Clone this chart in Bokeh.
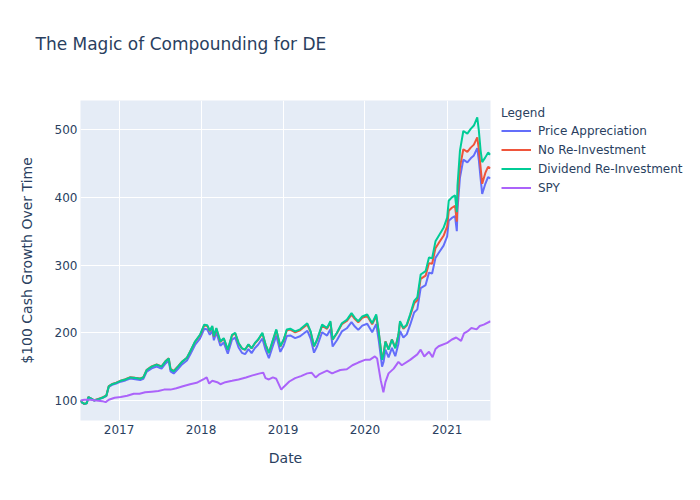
import pandas as pd
from bokeh.plotting import figure
from bokeh.models import (Range1d, Legend, LegendItem, FixedTicker,
                          DatetimeTickFormatter, Title, ColumnDataSource)
from bokeh.embed import file_html
from bokeh.resources import INLINE

# ---------------- data ----------------
de_dates = [
    "2016-07-13", "2016-07-19", "2016-07-30", "2016-08-10", "2016-08-17", "2016-08-28",
    "2016-09-12", "2016-09-30", "2016-10-18", "2016-11-05", "2016-11-16", "2016-12-01",
    "2016-12-19", "2017-01-08", "2017-01-29", "2017-02-20", "2017-03-14", "2017-04-05",
    "2017-04-19", "2017-05-04", "2017-05-26", "2017-06-17", "2017-07-09", "2017-07-27",
    "2017-08-10", "2017-08-18", "2017-09-01", "2017-09-20", "2017-10-08", "2017-10-30",
    "2017-11-13", "2017-12-05", "2017-12-27", "2018-01-15", "2018-01-29", "2018-02-09",
    "2018-02-20", "2018-02-27", "2018-03-10", "2018-03-28", "2018-04-12", "2018-04-30",
    "2018-05-19", "2018-06-02", "2018-06-17", "2018-07-02", "2018-07-16", "2018-07-31",
    "2018-08-14", "2018-08-29", "2018-09-12", "2018-10-01", "2018-10-15", "2018-10-30",
    "2018-11-13", "2018-12-02", "2018-12-20", "2019-01-04", "2019-01-18", "2019-02-02",
    "2019-02-24", "2019-03-18", "2019-04-19", "2019-05-04", "2019-05-19", "2019-06-02",
    "2019-06-24", "2019-07-16", "2019-07-31", "2019-08-10", "2019-08-29", "2019-09-20",
    "2019-10-12", "2019-11-02", "2019-11-17", "2019-12-02", "2019-12-20", "2020-01-11",
    "2020-02-02", "2020-02-20", "2020-03-02", "2020-03-17", "2020-03-24", "2020-04-01",
    "2020-04-15", "2020-04-30", "2020-05-15", "2020-05-29", "2020-06-05", "2020-06-20",
    "2020-07-05", "2020-07-20", "2020-08-07", "2020-08-21", "2020-09-05", "2020-09-27",
    "2020-10-12", "2020-10-26", "2020-11-10", "2020-11-24", "2020-12-16", "2021-01-01",
    "2021-01-08", "2021-01-22", "2021-02-05", "2021-02-13", "2021-02-16", "2021-02-27",
    "2021-03-14", "2021-04-01", "2021-04-16", "2021-04-30", "2021-05-15", "2021-05-22",
    "2021-05-30", "2021-06-06", "2021-06-20", "2021-07-02", "2021-07-13",
]

price_appreciation = [
    100.0, 97.0, 94.9, 95.8, 104.8, 102.7, 99.7, 101.6, 103.4, 106.3, 120.2, 123.0,
    124.9, 127.7, 129.6, 132.4, 131.2, 130.1, 131.9, 142.7, 147.4, 150.2, 147.1, 154.8,
    158.6, 142.9, 139.9, 146.5, 153.2, 158.9, 167.5, 182.0, 191.4, 205.8, 204.7, 196.9,
    203.5, 188.9, 200.4, 180.8, 185.5, 169.0, 190.0, 192.7, 178.2, 170.4, 168.3, 175.8,
    169.9, 177.5, 182.2, 191.5, 175.1, 162.6, 176.8, 195.8, 171.7, 181.2, 195.3, 196.1,
    192.1, 194.8, 203.0, 191.5, 170.6, 180.0, 200.7, 195.8, 205.1, 179.6, 188.9, 202.0,
    206.6, 215.8, 209.1, 204.2, 210.6, 213.2, 200.8, 212.8, 189.3, 149.8, 157.2, 175.0,
    163.6, 177.6, 165.3, 183.9, 202.5, 193.1, 197.6, 211.5, 230.0, 234.5, 265.9, 270.4,
    288.8, 287.6, 310.6, 317.8, 328.6, 342.3, 365.3, 369.6, 372.2, 350.0, 382.0, 429.3,
    455.6, 451.6, 457.6, 461.9, 472.6, 455.1, 427.7, 405.0, 420.0, 430.0, 428.0,
]

no_reinvestment = [
    100.0, 97.1, 95.1, 96.1, 105.1, 103.1, 100.3, 102.3, 104.3, 107.4, 121.3, 124.3,
    126.4, 129.3, 131.4, 134.4, 133.4, 132.5, 134.4, 145.4, 150.3, 153.3, 150.4, 158.2,
    162.2, 146.5, 143.7, 150.4, 157.3, 163.2, 171.9, 186.6, 196.2, 210.8, 209.8, 202.1,
    208.8, 194.3, 205.9, 186.4, 191.3, 174.9, 196.1, 198.9, 184.6, 176.9, 174.9, 182.6,
    176.8, 184.5, 189.4, 198.8, 182.6, 170.2, 184.5, 203.7, 179.8, 189.4, 203.6, 204.6,
    200.7, 203.6, 212.1, 200.8, 180.0, 189.5, 210.4, 205.7, 215.2, 189.7, 199.2, 212.5,
    217.3, 226.7, 220.2, 215.4, 222.0, 224.8, 212.5, 224.7, 201.3, 161.9, 169.4, 187.3,
    176.0, 190.1, 177.9, 196.6, 215.3, 206.0, 210.6, 224.7, 243.4, 248.1, 279.6, 284.3,
    302.8, 301.8, 325.0, 332.3, 343.2, 357.1, 380.1, 384.6, 387.3, 364.0, 397.2, 444.6,
    471.0, 467.2, 473.4, 477.8, 488.6, 471.1, 443.8, 420.0, 436.0, 445.0, 443.0,
]

dividend_reinvestment = [
    100, 97, 95, 96, 105, 103, 100, 102, 104, 107, 121, 124,
    126, 129, 131, 134, 133, 132, 134, 145, 150, 153, 150, 158,
    162, 146, 143, 150, 157, 163, 172, 187, 197, 212, 211, 203,
    210, 195, 207, 187, 192, 175, 197, 200, 185, 177, 175, 183,
    177, 185, 190, 200, 183, 170, 185, 205, 180, 190, 205, 206,
    202, 205, 214, 202, 180, 190, 212, 207, 217, 190, 200, 214,
    219, 229, 222, 217, 224, 227, 214, 227, 202, 160, 168, 187,
    175, 190, 177, 197, 217, 207, 212, 227, 247, 252, 286, 291,
    311, 310, 335, 343, 355, 370, 395, 400, 403, 378, 417, 469,
    498, 494, 501, 506, 518, 499, 469, 452, 459, 466, 463,
]

spy_dates = [
    "2016-07-13", "2016-07-30", "2016-08-26", "2016-09-21", "2016-10-18", "2016-11-02",
    "2016-11-16", "2016-12-12", "2017-01-08", "2017-02-06", "2017-03-07", "2017-04-02",
    "2017-04-27", "2017-05-26", "2017-06-25", "2017-07-20", "2017-08-18", "2017-09-13",
    "2017-10-12", "2017-11-13", "2017-12-12", "2018-01-15", "2018-01-26", "2018-02-06",
    "2018-02-20", "2018-03-14", "2018-03-28", "2018-04-19", "2018-05-19", "2018-06-17",
    "2018-07-20", "2018-08-18", "2018-09-20", "2018-10-05", "2018-10-15", "2018-10-30",
    "2018-11-17", "2018-12-02", "2018-12-24", "2019-01-04", "2019-01-29", "2019-02-24",
    "2019-03-22", "2019-04-19", "2019-05-08", "2019-05-26", "2019-06-13", "2019-07-16",
    "2019-08-07", "2019-08-15", "2019-09-13", "2019-10-12", "2019-11-06", "2019-12-02",
    "2020-01-01", "2020-01-22", "2020-02-14", "2020-02-24", "2020-03-11", "2020-03-23",
    "2020-04-01", "2020-04-15", "2020-05-08", "2020-05-29", "2020-06-13", "2020-07-20",
    "2020-08-21", "2020-09-05", "2020-09-21", "2020-10-12", "2020-10-28", "2020-11-10",
    "2020-11-24", "2021-01-01", "2021-01-22", "2021-02-10", "2021-03-04", "2021-03-17",
    "2021-04-01", "2021-04-19", "2021-05-12", "2021-05-26", "2021-06-13", "2021-07-13",
]

spy_values = [
    100, 101, 101, 100, 99, 97.5,
    101, 104, 105, 107, 110, 110,
    112, 113, 114, 116, 116, 118,
    121, 124, 126, 132, 134, 125,
    129, 127, 124, 127, 129, 131,
    134, 137, 140, 141, 133, 131,
    134, 132, 116, 120, 128, 133,
    136, 140, 141, 134, 139, 144,
    140, 141, 145, 146, 152, 156,
    160, 160, 165, 162, 130, 112,
    127, 140, 147, 157, 152, 160,
    168, 175, 165, 172, 164, 176,
    180, 185, 190, 193, 188, 199,
    202, 207, 205, 210, 212, 217,
]

chart_title = "The Magic of Compounding for DE"
series_names = ["Price Appreciation", "No Re-Investment", "Dividend Re-Investment", "SPY"]
series_colors = ["#636efa", "#EF553B", "#00cc96", "#ab63fa"]
year_ticks = ["2017-01-01", "2018-01-01", "2019-01-01", "2020-01-01", "2021-01-01"]
y_ticks = [100, 200, 300, 400, 500]

FONT = "DejaVu Sans"
TXT = "#2a3f5f"

de_src = ColumnDataSource(dict(
    date=pd.to_datetime(de_dates),
    pa=price_appreciation,
    nr=no_reinvestment,
    dr=dividend_reinvestment,
))
spy_src = ColumnDataSource(dict(date=pd.to_datetime(spy_dates), spy=spy_values))

x0 = pd.Timestamp(de_dates[0])
x1 = pd.Timestamp(de_dates[-1])

p = figure(
    x_axis_type="datetime",
    frame_width=410, frame_height=320,
    min_border_left=80, min_border_right=194, min_border_top=100, min_border_bottom=64,
    x_range=Range1d(x0, x1), y_range=Range1d(70.4, 543),
    output_backend="svg", toolbar_location=None,
)
# the trailing empty line lifts the title well above the plot frame
p.title = Title(text=chart_title + "\n ", align="left", offset=-45,
                text_font=FONT, text_font_size="17px", text_font_style="normal",
                text_color=TXT, standoff=53)

p.background_fill_color = "#E5ECF6"
p.border_fill_color = "white"
p.outline_line_color = None

r_pa = p.line("date", "pa", source=de_src, line_color=series_colors[0], line_width=2)
r_nr = p.line("date", "nr", source=de_src, line_color=series_colors[1], line_width=2)
r_dr = p.line("date", "dr", source=de_src, line_color=series_colors[2], line_width=2)
r_spy = p.line("date", "spy", source=spy_src, line_color=series_colors[3], line_width=2)

tick_ms = [pd.Timestamp(t).value // 10**6 for t in year_ticks]
p.xaxis.ticker = FixedTicker(ticks=tick_ms)
p.xaxis.formatter = DatetimeTickFormatter(years="%Y", months="%Y", days="%Y",
                                          hours="%Y", minutes="%Y")
p.yaxis.ticker = FixedTicker(ticks=y_ticks)

for ax in (p.xaxis[0], p.yaxis[0]):
    ax.axis_line_color = None
    ax.major_tick_line_color = None
    ax.minor_tick_line_color = None
    ax.major_tick_out = 0
    ax.major_tick_in = 0
    ax.minor_tick_out = 0
    ax.minor_tick_in = 0
    ax.major_label_text_font = FONT
    ax.major_label_text_font_size = "12px"
    ax.major_label_text_color = TXT
    ax.axis_label_text_font = FONT
    ax.axis_label_text_font_size = "14px"
    ax.axis_label_text_font_style = "normal"
    ax.axis_label_text_color = TXT

p.xaxis.axis_label = "Date"
p.yaxis.axis_label = "$100 Cash Growth Over Time"
p.xaxis.major_label_standoff = 4
p.xaxis.axis_label_standoff = 13
p.yaxis.major_label_standoff = 3
p.yaxis.axis_label_standoff = 17

p.xgrid.grid_line_color = "white"
p.ygrid.grid_line_color = "white"
p.xgrid.grid_line_width = 1
p.ygrid.grid_line_width = 1

legend = Legend(
    items=[LegendItem(label=n, renderers=[r]) for n, r in
           zip(series_names, [r_pa, r_nr, r_dr, r_spy])],
    title="Legend", location=(11, 223),
    title_text_font=FONT, title_text_font_size="12px", title_text_color=TXT,
    title_text_font_style="normal", title_standoff=1,
    label_text_font=FONT, label_text_font_size="12px", label_text_color=TXT,
    glyph_width=30, glyph_height=19, label_height=19, label_standoff=7,
    spacing=0, padding=0, margin=0,
    border_line_color=None, background_fill_alpha=0,
)
p.add_layout(legend, "right")

open("out.html", "w").write(file_html(p, INLINE))
